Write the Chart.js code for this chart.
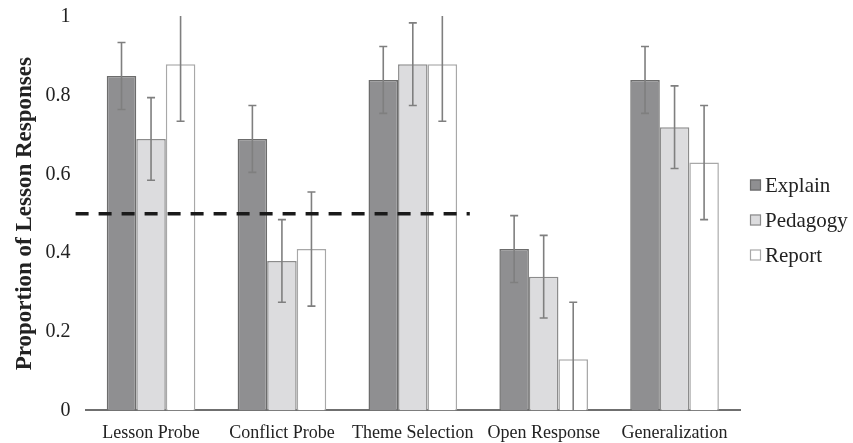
<!DOCTYPE html>
<html>
<head>
<meta charset="utf-8">
<script src="https://cdn.jsdelivr.net/npm/chart.js@4/dist/chart.umd.min.js"></script>
<style>
  html, body { margin: 0; padding: 0; background: #fff; }
  #wrap { width: 853px; height: 443px; }
</style>
</head>
<body>
<div id="wrap"><canvas id="chart"></canvas></div>
<script>
var categories = ['Lesson Probe', 'Conflict Probe', 'Theme Selection', 'Open Response', 'Generalization'];
var explain = [0.85, 0.69, 0.84, 0.41, 0.84];
var pedagogy = [0.69, 0.38, 0.88, 0.34, 0.72];
var report = [0.88, 0.41, 0.88, 0.13, 0.63];
// error bar half-widths
var explainErr = [0.085, 0.085, 0.085, 0.085, 0.085];
var pedagogyErr = [0.105, 0.105, 0.105, 0.105, 0.105];
var reportErr = [0.145, 0.145, 0.145, 0.145, 0.145];
var yTicks = [0, 0.2, 0.4, 0.6, 0.8, 1];
var chanceLevel = 0.5;

var serif = '"Liberation Serif", "Times New Roman", serif';

// whiskers, drawn on top of the bars and clipped to the plot
var errorBars = {
  id: 'errorBars',
  afterDatasetsDraw: function(chart) {
    var ctx = chart.ctx, y = chart.scales.y, area = chart.chartArea;
    ctx.save();
    ctx.beginPath();
    ctx.rect(area.left, area.top - 1, area.right - area.left, area.bottom - area.top + 1);
    ctx.clip();
    ctx.strokeStyle = '#7f7f7f';
    ctx.lineWidth = 1.6;
    chart.data.datasets.forEach(function(ds, i) {
      var meta = chart.getDatasetMeta(i);
      meta.data.forEach(function(bar, j) {
        var v = ds.data[j], e = ds.errors[j];
        var top = y.getPixelForValue(v + e), bot = y.getPixelForValue(v - e);
        ctx.beginPath();
        ctx.moveTo(bar.x, top); ctx.lineTo(bar.x, bot);
        ctx.moveTo(bar.x - 4, top); ctx.lineTo(bar.x + 4, top);
        ctx.moveTo(bar.x - 4, bot); ctx.lineTo(bar.x + 4, bot);
        ctx.stroke();
      });
    });
    ctx.restore();
  }
};

// dashed chance line across the first three tasks
var chanceLine = {
  id: 'chanceLine',
  afterDatasetsDraw: function(chart) {
    var ctx = chart.ctx, x = chart.scales.x, y = chart.scales.y;
    var py = y.getPixelForValue(chanceLevel);
    var x0 = chart.chartArea.left - 10;
    var x1 = x.getPixelForValue(2) + 57;
    ctx.save();
    ctx.strokeStyle = '#1a1a1a';
    ctx.lineWidth = 3.5;
    ctx.setLineDash([13, 10]);
    ctx.beginPath();
    ctx.moveTo(x0, py); ctx.lineTo(x1, py);
    ctx.stroke();
    ctx.restore();
  }
};

// legend to the right of the plot, box close to its label like the original
var sideLegend = {
  id: 'sideLegend',
  afterDraw: function(chart) {
    var ctx = chart.ctx, area = chart.chartArea;
    var x = area.right + 10, y0 = 185;
    ctx.save();
    ctx.font = '21px ' + serif;
    ctx.textBaseline = 'middle';
    ctx.textAlign = 'left';
    chart.data.datasets.forEach(function(ds, i) {
      var cy = y0 + i * 35;
      ctx.fillStyle = ds.backgroundColor;
      ctx.fillRect(x, cy - 5.5, 11, 11);
      ctx.strokeStyle = ds.borderColor;
      ctx.lineWidth = 1.2;
      ctx.strokeRect(x + 0.5, cy - 5, 10, 10);
      ctx.fillStyle = '#222';
      ctx.fillText(ds.label, x + 15, cy + 1);
    });
    ctx.restore();
  }
};

new Chart(document.getElementById('chart'), {
  type: 'bar',
  data: {
    labels: categories,
    datasets: [
      { label: 'Explain', data: explain, errors: explainErr,
        backgroundColor: '#8f8f91', borderColor: '#6c6c6c', borderWidth: 1.5 },
      { label: 'Pedagogy', data: pedagogy, errors: pedagogyErr,
        backgroundColor: '#dcdcde', borderColor: '#8c8c8c', borderWidth: 1.5 },
      { label: 'Report', data: report, errors: reportErr,
        backgroundColor: '#ffffff', borderColor: '#a8a8a8', borderWidth: 1.5 }
    ]
  },
  options: {
    responsive: true,
    maintainAspectRatio: false,
    animation: false,
    categoryPercentage: 0.677,
    barPercentage: 1,
    layout: { padding: { top: 17, left: 5, right: 113, bottom: -13 } },
    plugins: {
      tooltip: { enabled: false },
      legend: { display: false }
    },
    scales: {
      x: {
        grid: { display: false, drawTicks: false },
        border: { color: '#6f6f6f', width: 2 },
        ticks: { color: '#222', font: { family: serif, size: 18 }, padding: 12, maxRotation: 0, autoSkip: false }
      },
      y: {
        min: 0, max: 1,
        afterBuildTicks: function(scale) {
          scale.ticks = yTicks.map(function(v) { return { value: v }; });
        },
        // hidden tick marks keep the labels 15px off the plot without extra top padding
        grid: { display: false, drawTicks: true, tickLength: 12 },
        border: { display: false },
        ticks: {
          color: '#222', padding: 3, font: { family: serif, size: 20 },
          callback: function(v) { return String(Math.round(v * 10) / 10); }
        },
        title: {
          display: true, text: 'Proportion of Lesson Responses', color: '#222',
          font: { family: serif, size: 23, weight: 'bold' }, padding: { top: 6, bottom: 4 }
        }
      }
    }
  },
  plugins: [errorBars, chanceLine, sideLegend]
});
</script>
</body>
</html>
